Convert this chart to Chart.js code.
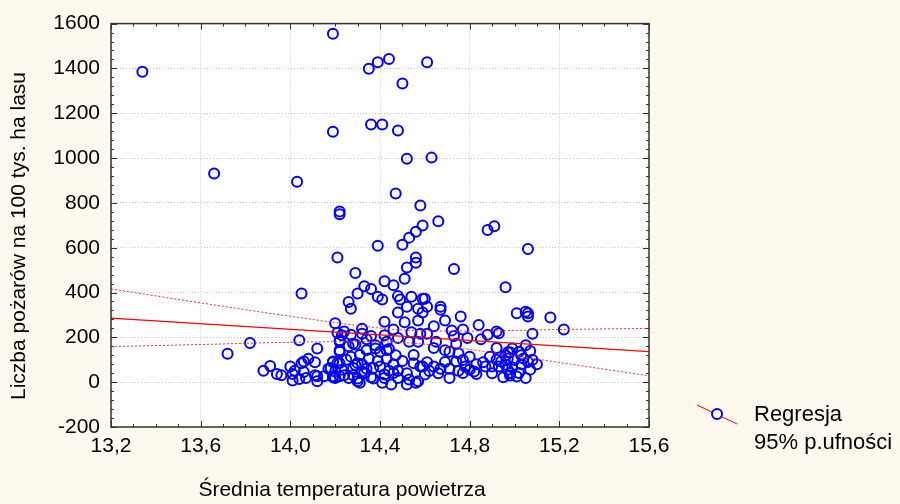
<!DOCTYPE html>
<html>
<head>
<meta charset="utf-8">
<script src="https://cdn.jsdelivr.net/npm/chart.js@4.4.0/dist/chart.umd.min.js"></script>
<style>
  html, body { margin: 0; padding: 0; background: #fdf9ee; }
  #wrap { width: 900px; height: 504px; }
</style>
</head>
<body>
<div id="wrap"><canvas id="fireChart" width="900" height="504"></canvas></div>
<script>
const xTicks = [13.2, 13.6, 14.0, 14.4, 14.8, 15.2, 15.6];
const yTicks = [-200, 0, 200, 400, 600, 800, 1000, 1200, 1400, 1600];

// temperature (x) and number of fires (y)
const tempX = [
  13.34, 13.66, 14.03, 13.72, 13.82, 14.05,
  14.19, 14.35, 14.39, 14.44, 14.61, 14.50, 14.36, 14.41, 14.19, 14.48, 14.52, 14.63, 14.47, 14.58,
  14.22, 14.22, 14.66, 14.59, 14.56, 14.53, 14.50, 14.39, 14.88, 14.91, 15.06,
  14.21, 14.20, 14.04, 14.12, 14.08, 14.06, 14.11, 13.91, 13.88, 13.94, 13.96, 14.00, 14.02, 14.01,
  14.04, 14.06, 14.07, 14.11, 14.12, 14.15, 14.17, 14.19, 14.19, 14.20, 14.21, 14.22, 14.22, 14.21, 14.20,
  14.05, 14.01, 14.12, 14.19, 14.18, 14.19,
  14.29, 14.56, 14.56, 14.52, 14.51, 14.42, 14.46, 14.33, 14.36, 14.30, 14.39, 14.41, 14.48, 14.49,
  14.54, 14.26, 14.27, 14.59, 14.48, 14.52, 14.57, 14.42, 14.51, 14.57, 14.32, 14.46, 14.54, 14.58,
  14.23, 14.27, 14.32, 14.36, 14.42, 14.48, 14.53, 14.29, 14.22, 14.34, 14.38, 14.44, 14.57, 14.27,
  14.39, 14.43, 14.50, 14.55, 14.22, 14.30, 14.32, 14.35, 14.23, 14.28, 14.32, 14.37, 14.44, 14.48,
  14.55, 14.58, 14.22, 14.26, 14.30, 14.36, 14.42, 14.48, 14.53, 14.57, 14.31, 14.41, 14.45, 14.52, 14.56,
  14.24, 14.22, 14.28, 14.34, 14.38, 14.43, 14.29, 14.31, 14.40, 14.43, 14.24, 14.28, 14.33, 14.42,
  14.46, 14.30, 14.37,
  14.73, 14.96, 14.60, 14.61, 14.59, 14.67, 14.67, 14.76, 14.69, 14.64, 14.84, 14.72, 14.77, 14.92,
  14.93, 14.88, 14.85, 14.61, 14.65, 14.73, 14.79, 14.74, 14.64, 14.69, 14.71, 14.75, 14.92, 14.80,
  14.77, 14.74, 14.89, 14.86, 14.94, 14.97, 14.61, 14.59, 14.64, 14.67, 14.71, 14.75, 14.80, 14.87,
  14.90, 14.93, 14.96, 14.60, 14.71, 14.77, 14.82, 14.83, 14.95,
  15.01, 15.05, 15.06, 15.06, 15.16, 15.22, 15.08, 15.05, 14.98, 15.02, 15.07, 14.97, 15.00, 15.04,
  14.99, 15.03, 15.07, 15.10, 14.98, 15.02, 15.05,
  14.96, 14.99, 15.03, 15.06, 14.97, 15.01, 15.08,
  14.62, 14.66, 14.69, 14.78, 14.83, 14.90, 14.92, 14.98,
  14.25, 14.34, 14.40, 14.46, 14.52, 14.47, 14.26
];
const fires = [
  1385, 931, 894, 127, 175, 396,
  1555, 1399, 1428, 1442, 1428, 1333, 1150, 1150, 1117, 1123, 997, 1002, 842, 788,
  762, 749, 718, 699, 671, 645, 613, 609, 679, 696, 594,
  556, 263, 187, 150, 104, 92, 89, 72, 51, 36, 31, 70, 51, 7,
  14, 45, 19, 31, 4, 26, 60, 89, 26, 48, 85, 136, 180, 220, 19,
  85, 36, 26, 22, 63, 92,
  487, 556, 533, 512, 461, 450, 432, 428, 416, 396, 381, 369, 384, 369,
  381, 358, 328, 372, 311, 337, 328, 270, 267, 275, 238, 235, 223, 216,
  209, 212, 216, 206, 209, 197, 180, 168, 143, 143, 165, 148, 180, 114,
  95, 104, 95, 121, 85, 85, 80, 106, 56, 63, 48, 63, 51, 51,
  85, 70, 26, 19, 16, 22, 19, 19, 12, 4, -3, -3, -10, -10, -3,
  226, 187, 172, 191, 150, 180, 77, 121, 136, 143, 31, 31, 41, 34,
  41, 4, 16,
  505, 424, 372, 337, 311, 337, 323, 293, 275, 250, 255, 231, 235, 226,
  218, 212, 191, 216, 180, 206, 197, 172, 153, 143, 136, 128, 153, 114,
  99, 92, 114, 89, 92, 133, 89, 70, 70, 60, 60, 51, 56, 70,
  70, 70, 78, 34, 19, 41, 48, 36, 22,
  308, 314, 308, 293, 289, 235, 216, 165, 133, 136, 139, 106, 99, 106,
  66, 80, 56, 80, 41, 41, 19,
  120, 150, 120, 90, 55, 25, 100,
  50, 40, 90, 70, 80, 40, 100, 30,
  100, 60, 70, 80, 40, 120, 160
];

// regression line and 95% confidence band
const regX = [13.2, 15.6];
const regY = [286, 136];
const ciX = [13.2, 13.6, 14.0, 14.3, 14.5, 14.8, 15.2, 15.6];
const ciUpper = [416, 354, 294, 253, 233, 228, 235, 240];
const ciLower = [159, 168, 178, 181, 177, 146, 88, 28];

const legendLabels = ['Regresja', '95% p.ufności'];
const xTitle = 'Średnia temperatura powietrza';
const yTitle = 'Liczba pożarów na 100 tys. ha lasu';

const FONT = '"Liberation Sans", Arial, sans-serif';
Chart.defaults.font.family = FONT;
Chart.defaults.color = '#000';

const toXY = (xs, ys) => xs.map((x, i) => ({ x: x, y: ys[i] }));

// white plot area, frame with inward ticks, titles and legend
const framePlugin = {
  id: 'frame',
  beforeDraw(chart) {
    const a = chart.chartArea, c = chart.ctx;
    c.save();
    c.fillStyle = '#ffffff';
    c.fillRect(a.left, a.top, a.right - a.left, a.bottom - a.top);
    c.restore();
  },
  afterDraw(chart) {
    const a = chart.chartArea, c = chart.ctx;
    const xs = chart.scales.x, ys = chart.scales.y;
    c.save();
    c.strokeStyle = '#333';
    c.lineWidth = 1;
    c.beginPath();
    for (let i = 0; i <= 24; i++) {
      const px = Math.round(xs.getPixelForValue(13.2 + i * 0.1)) + 0.5;
      const len = (i % 4 === 0) ? 6 : 3;
      c.moveTo(px, a.bottom); c.lineTo(px, a.bottom - len);
      c.moveTo(px, a.top); c.lineTo(px, a.top + len);
    }
    for (let v = -200; v <= 1600; v += 40) {
      const py = Math.round(ys.getPixelForValue(v)) + 0.5;
      const len = (v % 200 === 0) ? 6 : 3;
      c.moveTo(a.left, py); c.lineTo(a.left + len, py);
      c.moveTo(a.right, py); c.lineTo(a.right - len, py);
    }
    c.stroke();
    c.lineWidth = 1.5;
    c.strokeRect(a.left, a.top, a.right - a.left, a.bottom - a.top);

    // axis titles
    c.fillStyle = '#000';
    c.font = '21px ' + FONT;
    c.textAlign = 'center';
    c.textBaseline = 'middle';
    c.fillText(xTitle, 342, 490);
    c.save();
    c.translate(19, 236);
    c.rotate(-Math.PI / 2);
    c.fillText(yTitle, 0, 0);
    c.restore();

    // legend
    c.strokeStyle = '#ff0000';
    c.lineWidth = 1;
    c.beginPath();
    c.moveTo(697, 405); c.lineTo(737, 424);
    c.stroke();
    c.beginPath();
    c.arc(717, 414, 5, 0, Math.PI * 2);
    c.fillStyle = '#ffffff';
    c.fill();
    c.strokeStyle = '#0000ff';
    c.lineWidth = 2;
    c.stroke();
    c.fillStyle = '#000';
    c.font = '22px ' + FONT;
    c.textAlign = 'left';
    c.fillText(legendLabels[0], 754, 415);
    c.fillText(legendLabels[1], 754, 443);
    c.restore();
  }
};

new Chart(document.getElementById('fireChart'), {
  type: 'scatter',
  data: {
    datasets: [
      {
        type: 'line', label: legendLabels[0], data: toXY(regX, regY),
        borderColor: '#ff0000', borderWidth: 1.2, pointRadius: 0, fill: false, order: 0
      },
      {
        type: 'line', label: legendLabels[1], data: toXY(ciX, ciUpper),
        borderColor: '#ff3030', borderWidth: 1, borderDash: [2, 2], pointRadius: 0,
        fill: false, cubicInterpolationMode: 'monotone', order: 0
      },
      {
        type: 'line', label: legendLabels[1], data: toXY(ciX, ciLower),
        borderColor: '#ff3030', borderWidth: 1, borderDash: [2, 2], pointRadius: 0,
        fill: false, cubicInterpolationMode: 'monotone', order: 0
      },
      {
        label: 'dane', data: toXY(tempX, fires),
        pointStyle: 'circle', pointRadius: 5, borderWidth: 2,
        borderColor: '#0000ff', backgroundColor: 'rgba(0,0,0,0)', order: 1
      }
    ]
  },
  options: {
    responsive: false,
    animation: false,
    events: [],
    devicePixelRatio: 1,
    layout: { padding: { top: 16, right: 251, left: 0, bottom: 0 } },
    plugins: { legend: { display: false }, tooltip: { enabled: false } },
    scales: {
      x: {
        type: 'linear', min: 13.2, max: 15.6,
        afterBuildTicks: s => { s.ticks = xTicks.map(v => ({ value: v })); },
        afterFit: s => { s.height = 77; },
        ticks: {
          callback: v => v.toFixed(1).replace('.', ','),
          font: { size: 21 }, color: '#000', padding: 7, maxRotation: 0, autoSkip: false
        },
        grid: { color: '#c4c4c4', drawTicks: false },
        border: { display: false, dash: [1, 2] }
      },
      y: {
        type: 'linear', min: -200, max: 1600,
        afterBuildTicks: s => { s.ticks = yTicks.map(v => ({ value: v })); },
        afterFit: s => { s.width = 111; },
        ticks: {
          callback: v => String(v),
          font: { size: 21 }, color: '#000', padding: 11, autoSkip: false
        },
        grid: { color: '#c4c4c4', drawTicks: false },
        border: { display: false, dash: [1, 2] }
      }
    }
  },
  plugins: [framePlugin]
});
</script>
</body>
</html>
